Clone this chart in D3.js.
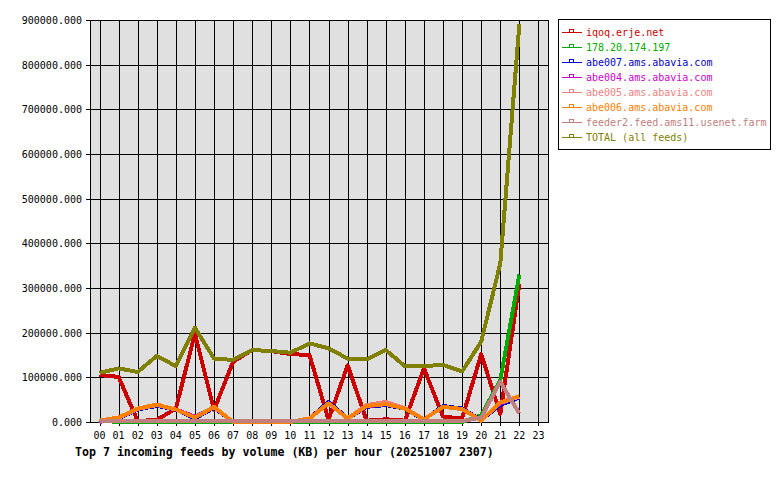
<!DOCTYPE html>
<html>
<head>
<meta charset="utf-8">
<script src="https://d3js.org/d3.v7.min.js"></script>
<style>
    body { margin: 0; background: #ffffff; }
    text { font-family: "DejaVu Sans Mono", monospace; }
</style>
</head>
<body>
<div id="chart"></div>
<script>

    // hour labels on the x axis
    var hours = ["00", "01", "02", "03", "04", "05", "06", "07", "08", "09", "10", "11",
        "12", "13", "14", "15", "16", "17", "18", "19", "20", "21", "22", "23"];

    // KB per hour, hours 00..22 (no data yet for 23)
    var iqoq = [105000, 101000, 2000, 5000, 30000, 198000, 27000, 135000, 161000, 159000, 152000, 150000,
        5000, 127000, 3000, 6000, 3000, 120000, 12000, 8000, 152000, 18000, 310000];
    var ip178 = [3000, 0, 0, 0, 0, 0, 0, 0, 0, 0, 0, 0,
        0, 0, 0, 0, 0, 0, 0, 0, 15000, 94000, 330000];
    var abe007 = [0, 8000, 28000, 36000, 28000, 8000, 32000, 0, 0, 0, 0, 8000,
        45000, 8000, 34000, 38000, 30000, 5000, 36000, 30000, 5000, 38000, 55000];
    var abe004 = [0, 9000, 29000, 38000, 28000, 12000, 33000, 0, 0, 0, 0, 8000,
        42000, 8000, 35000, 40000, 30000, 6000, 34000, 29000, 4000, 42000, 57000];
    var abe005 = [2000, 9000, 29000, 38000, 28000, 10000, 33000, 0, 0, 0, 0, 8000,
        42000, 8000, 38000, 45000, 31000, 6000, 34000, 29000, 4000, 43000, 57000];
    var abe006 = [3000, 10000, 30000, 39000, 28000, 10000, 34000, 0, 0, 0, 0, 8000,
        42000, 8000, 36000, 40000, 30000, 6000, 34000, 29000, 3000, 44000, 58000];
    var feeder2 = [2000, 2000, 2000, 2000, 2000, 2000, 2000, 2000, 2000, 2000, 2000, 2000,
        2000, 2000, 2000, 2000, 2000, 2000, 2000, 2000, 10000, 90000, 19000];
    var total = [110000, 120000, 112000, 148000, 125000, 211000, 142000, 139000, 161000, 159000, 155000, 176000,
        165000, 142000, 140000, 161000, 125000, 125000, 128000, 113000, 180000, 355000, 891000];

    var yTicks = [0, 100000, 200000, 300000, 400000, 500000, 600000, 700000, 800000, 900000];

    var series = [
        { name: "iqoq.erje.net", color: "#cc0000", values: iqoq },
        { name: "178.20.174.197", color: "#00aa00", values: ip178 },
        { name: "abe007.ams.abavia.com", color: "#0000cc", values: abe007 },
        { name: "abe004.ams.abavia.com", color: "#cc00cc", values: abe004 },
        { name: "abe005.ams.abavia.com", color: "#f08080", values: abe005 },
        { name: "abe006.ams.abavia.com", color: "#ff8000", values: abe006 },
        { name: "feeder2.feed.ams11.usenet.farm", color: "#c08080", values: feeder2 },
        { name: "TOTAL (all feeds)", color: "#808000", values: total }
    ];

    var W = 780, H = 480;
    var plot = { left: 90, right: 548, top: 20, bottom: 422 };

    var svg = d3.select("#chart").append("svg")
        .attr("width", W)
        .attr("height", H);

    var x = d3.scalePoint()
        .domain(hours)
        .range([plot.left, plot.right])
        .padding(0.5);

    var y = d3.scaleLinear()
        .domain([0, 900000])
        .range([plot.bottom, plot.top]);

    function px(v) { return Math.round(v) + 0.5; }

    // plot background
    svg.append("rect")
        .attr("x", plot.left)
        .attr("y", plot.top)
        .attr("width", plot.right - plot.left)
        .attr("height", plot.bottom - plot.top)
        .attr("fill", "#e0e0e0");

    // grid
    var grid = svg.append("g")
        .attr("stroke", "#000")
        .attr("stroke-width", 1)
        .attr("shape-rendering", "crispEdges");
    grid.selectAll("line.v")
        .data(hours)
        .enter().append("line")
        .attr("class", "v")
        .attr("x1", function (d) { return px(x(d)); })
        .attr("x2", function (d) { return px(x(d)); })
        .attr("y1", plot.top)
        .attr("y2", plot.bottom + 4);
    grid.selectAll("line.h")
        .data(yTicks)
        .enter().append("line")
        .attr("class", "h")
        .attr("x1", plot.left - 4)
        .attr("x2", plot.right)
        .attr("y1", function (d) { return px(y(d)); })
        .attr("y2", function (d) { return px(y(d)); });

    // frame
    svg.append("rect")
        .attr("x", plot.left + 0.5)
        .attr("y", plot.top + 0.5)
        .attr("width", plot.right - plot.left)
        .attr("height", plot.bottom - plot.top)
        .attr("fill", "none")
        .attr("stroke", "#000")
        .attr("shape-rendering", "crispEdges");

    // y labels
    svg.append("g").selectAll("text")
        .data(yTicks)
        .enter().append("text")
        .attr("x", plot.left - 8)
        .attr("y", function (d) { return y(d) + 4; })
        .attr("text-anchor", "end")
        .attr("font-size", 10)
        .attr("fill", "#000")
        .text(d3.format(".3f"));

    // x labels
    svg.append("g").selectAll("text")
        .data(hours)
        .enter().append("text")
        .attr("x", function (d) { return x(d); })
        .attr("y", plot.bottom + 17)
        .attr("text-anchor", "middle")
        .attr("font-size", 10)
        .attr("fill", "#000")
        .text(function (d) { return d; });

    // lines
    var line = d3.line()
        .x(function (d, i) { return x(hours[i]); })
        .y(function (d) { return y(d); });

    svg.append("g").selectAll("path")
        .data(series)
        .enter().append("path")
        .attr("d", function (s) { return line(s.values); })
        .attr("fill", "none")
        .attr("stroke", function (s) { return s.color; })
        .attr("stroke-width", 4)
        .attr("stroke-linejoin", "round")
        .attr("shape-rendering", "crispEdges");

    // title
    svg.append("text")
        .attr("x", 75)
        .attr("y", 456)
        .attr("font-size", 11.6)
        .attr("font-weight", "bold")
        .attr("fill", "#000")
        .text("Top 7 incoming feeds by volume (KB) per hour (20251007 2307)");

    // legend
    var legend = svg.append("g");
    legend.append("rect")
        .attr("x", 558.5)
        .attr("y", 19.5)
        .attr("width", 212)
        .attr("height", 130)
        .attr("fill", "#fff")
        .attr("stroke", "#000")
        .attr("stroke-width", 1)
        .attr("shape-rendering", "crispEdges");

    var row = legend.selectAll("g.row")
        .data(series)
        .enter().append("g")
        .attr("class", "row")
        .attr("transform", function (d, i) { return "translate(0," + (32 + i * 15) + ")"; });

    row.append("line")
        .attr("x1", 562).attr("x2", 582)
        .attr("y1", 0.5).attr("y2", 0.5)
        .attr("stroke", function (d) { return d.color; })
        .attr("shape-rendering", "crispEdges");
    row.append("rect")
        .attr("x", 569.5).attr("y", -2.5)
        .attr("width", 4).attr("height", 3)
        .attr("fill", "none")
        .attr("stroke", function (d) { return d.color; })
        .attr("shape-rendering", "crispEdges");
    row.append("text")
        .attr("x", 586)
        .attr("y", 4)
        .attr("font-size", 10)
        .attr("fill", function (d) { return d.color; })
        .text(function (d) { return d.name; });

</script>
</body>
</html>
